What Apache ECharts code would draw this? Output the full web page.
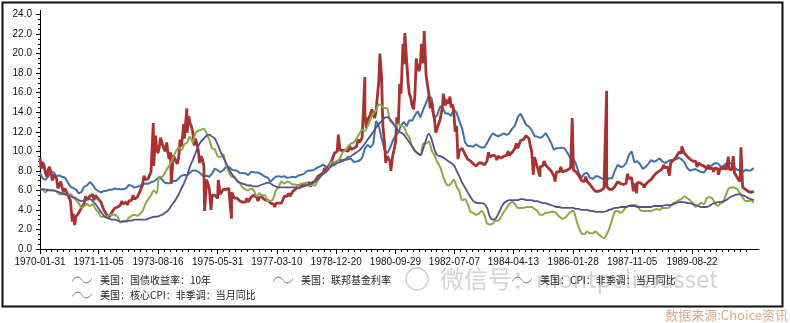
<!DOCTYPE html>
<html><head><meta charset="utf-8">
<script src="https://cdn.jsdelivr.net/npm/echarts@6/dist/echarts.min.js"></script>
<style>html,body{margin:0;padding:0;background:#fff}#c{width:790px;height:323px}</style>
</head><body><div id="c"></div>
<script>
// ---------- data (monthly values start at 1970-01, plotted at month end) ----------
const startYear = 1970;
const tickLabels = ['1970-01-31','1971-11-05','1973-08-16','1975-05-31','1977-03-10','1978-12-20',
  '1980-09-29','1982-07-07','1984-04-13','1986-01-28','1987-11-05','1989-08-22'];
const axisEnd = '1991-08-26';
const seriesNames = ['美国：国债收益率：10年','美国：联邦基金利率','美国：CPI：非季调：当月同比','美国：核心CPI：非季调：当月同比'];

const treasury10y = [
 7.79,7.24,7.07,7.39,7.91,7.84,7.46,7.53,7.39,7.33,6.84,6.39,
 6.24,6.11,5.70,5.83,6.39,6.52,6.85,6.58,6.14,5.93,5.81,5.93,
 5.95,6.08,6.07,6.19,6.13,6.11,6.11,6.21,6.55,6.48,6.28,6.36,
 6.46,6.64,6.71,6.67,6.85,6.90,7.13,7.40,7.09,6.79,6.73,6.74,
 6.99,6.96,7.21,7.51,7.58,7.54,7.81,8.04,8.04,7.90,7.68,7.43,
 7.50,7.39,7.73,8.23,8.06,7.86,8.06,8.40,8.43,8.14,8.05,8.00,
 7.74,7.79,7.73,7.56,7.90,7.86,7.83,7.77,7.59,7.41,7.29,6.87,
 7.21,7.39,7.46,7.37,7.46,7.28,7.33,7.40,7.34,7.52,7.58,7.69,
 7.96,8.03,8.04,8.15,8.35,8.46,8.64,8.41,8.42,8.64,8.81,9.01,
 9.10,9.10,9.12,9.18,9.25,8.91,8.95,9.03,9.33,10.30,10.65,10.39,
 10.80,13.10,12.60,11.30,10.20,9.80,10.30,11.10,11.60,11.90,12.70,13.00,
 12.57,13.19,13.12,13.68,14.10,13.47,14.28,14.94,15.70,15.40,13.39,13.72,
 14.59,14.43,13.86,13.87,13.62,14.30,13.95,13.06,12.34,10.91,10.55,10.54,
 10.46,10.72,10.51,10.40,10.38,10.85,11.38,11.85,11.65,11.54,11.69,11.83,
 11.67,11.84,12.32,12.63,13.50,13.85,13.30,12.72,12.52,12.16,11.57,11.50,
 11.38,11.51,11.86,11.43,10.85,10.16,10.31,10.33,10.37,10.24,9.78,9.26,
 9.19,8.70,7.78,7.30,7.71,7.80,7.30,7.17,7.45,7.43,7.25,7.11,
 7.08,7.25,7.25,8.02,8.61,8.40,8.45,8.76,9.60,10.00,8.86,8.99,
 8.67,8.21,8.37,8.72,9.09,8.92,9.06,9.26,8.98,8.80,8.96,9.11,
 9.09,9.17,9.36,9.18,8.86,8.28,8.02,8.11,8.19,8.01,7.87,7.84,
 8.21,8.47,8.59,8.79,8.76,8.48,8.47,8.75,8.89,8.72,8.39,8.08,
 8.09,7.85,8.11,8.04,8.07,8.28];

const fedFunds = [
 9.3,8.9,7.8,8.1,7.9,7.6,7.2,6.6,6.3,6.2,5.6,4.9,
 3.6,3.3,3.7,4.2,4.7,5.0,5.4,5.6,5.5,5.1,4.8,4.0,
 3.5,3.3,3.8,4.2,4.3,4.5,4.6,4.8,4.9,5.0,5.1,5.3,
 5.9,6.6,7.1,7.2,7.9,8.5,10.4,10.5,10.8,10.0,10.0,9.9,
 9.6,9.0,9.4,10.5,11.3,11.9,12.9,12.0,11.3,10.1,9.5,8.5,
 7.1,6.2,5.5,5.5,5.2,5.6,6.1,6.1,6.2,5.8,5.2,5.2,
 4.9,4.8,4.8,4.8,5.3,5.5,5.3,5.3,5.3,5.0,5.0,4.7,
 4.6,4.7,4.7,4.7,5.4,5.4,5.4,5.9,6.1,6.5,6.5,6.6,
 6.7,6.8,6.8,6.9,7.4,7.6,7.8,8.0,8.5,9.0,9.8,10.0,
 10.1,10.1,10.1,10.0,10.2,10.3,10.5,10.9,11.4,13.8,13.2,13.8,
 13.8,14.1,17.2,17.6,11.0,9.5,9.0,9.6,10.9,12.8,15.9,18.9,
 19.1,15.9,14.7,15.7,18.5,19.1,19.0,17.8,15.9,15.1,13.3,12.4,
 13.2,14.8,14.7,14.9,14.5,14.2,12.6,10.1,10.3,9.7,9.2,9.0,
 8.7,8.5,8.8,8.8,8.6,9.0,9.4,9.6,9.5,9.5,9.3,9.5,
 9.6,9.6,9.9,10.3,10.3,11.1,11.2,11.6,11.3,10.0,9.4,8.4,
 8.4,8.5,8.6,8.3,8.0,7.5,7.9,7.9,7.9,8.0,8.1,8.3,
 8.1,7.9,7.5,7.0,6.9,6.9,6.6,6.2,5.9,5.9,6.0,6.2,
 6.4,6.1,6.1,6.4,6.9,6.7,6.6,6.7,7.2,7.3,6.7,6.8,
 6.8,6.6,6.6,6.9,7.1,7.5,7.8,8.0,8.2,8.3,8.4,8.8,
 9.1,9.4,9.9,9.8,9.8,9.5,9.2,9.0,9.0,8.8,8.6,8.5,
 8.2,8.2,8.3,8.3,8.2,8.3,8.2,8.1,8.2,8.1,7.8,7.3,
 6.9,6.3,6.1,5.9,5.8,5.9];

// daily readings of the fed funds rate (spikes and intra-month swings) seen in the picture
const fedFundsDaily = [
 ['1970-02-15',8.2],['1970-03-15',8.6],['1970-04-15',7.4],['1970-05-15',8.4],['1970-06-15',7.0],
 ['1970-07-15',7.7],['1970-08-15',6.2],['1970-09-15',6.9],['1970-10-15',5.8],['1970-11-15',6.0],
 ['1971-01-20',2.8],['1971-02-15',2.45],['1971-03-12',3.1],['1971-06-15',5.4],['1971-09-15',5.0],
 ['1972-05-15',4.0],['1972-07-15',4.9],['1972-09-15',4.5],['1972-11-15',5.5],['1973-01-15',5.2],
 ['1973-03-15',7.5],['1973-05-15',7.4],['1973-06-25',12.9],['1973-07-20',11.6],['1973-08-15',9.8],
 ['1973-09-12',11.4],['1973-10-15',10.8],['1973-11-20',10.9],['1973-12-15',9.2],['1974-01-08',6.7],
 ['1974-02-15',9.8],['1974-03-15',8.7],['1974-04-15',11.2],['1974-05-25',12.8],['1974-06-28',14.4],
 ['1974-07-20',13.6],['1974-08-15',12.6],['1974-09-15',10.6],['1974-10-15',10.8],['1974-11-15',8.8],
 ['1974-12-15',9.2],['1975-01-08',3.9],['1975-03-20',4.0],['1975-06-07',7.06],['1975-10-30',3.1],
 ['1976-04-15',5.2],['1976-08-15',4.9],['1977-02-15',4.3],['1977-07-15',5.7],['1977-10-15',6.2],
 ['1978-03-15',6.4],['1978-08-15',8.3],['1979-01-12',11.7],['1979-05-15',10.6],['1979-08-15',11.2],
 ['1979-10-30',17.6],['1979-11-15',12.4],['1980-01-15',14.3],['1980-02-15',13.4],['1980-04-12',20.0],
 ['1980-05-15',12.5],['1980-06-15',8.8],['1980-08-10',8.0],['1980-09-15',10.2],['1980-10-15',13.5],
 ['1980-11-15',16.9],['1980-12-20',21.0],['1981-01-10',22.1],['1981-02-15',17.0],['1981-03-15',15.5],
 ['1981-04-15',14.3],['1981-05-15',19.5],['1981-06-15',18.2],['1981-07-12',21.0],['1981-08-10',22.3],
 ['1981-09-15',16.8],['1981-10-15',14.4],['1981-11-15',14.0],['1981-12-15',11.9],['1982-01-15',12.6],
 ['1982-02-15',14.0],['1982-03-07',15.9],['1982-04-15',15.3],['1982-05-20',15.6],['1982-06-15',14.8],
 ['1982-07-15',12.0],['1982-08-15',9.2],['1982-10-15',10.2],['1983-03-15',8.3],['1983-07-15',9.9],
 ['1983-10-15',9.1],['1984-02-15',10.0],['1984-05-15',10.8],['1984-08-15',11.1],['1984-10-15',10.6],
 ['1984-11-18',7.6],['1985-01-30',7.4],['1985-03-15',9.0],['1985-05-15',8.3],['1985-07-13',6.9],
 ['1985-09-15',8.4],['1985-11-15',7.8],['1986-01-18',13.4],['1986-03-15',7.9],['1986-06-15',7.4],
 ['1986-09-15',6.3],['1987-01-30',16.2],['1987-04-15',6.0],['1987-06-15',7.1],['1987-09-15',7.7],
 ['1987-11-18',5.9],['1987-12-25',5.7],['1988-03-15',6.3],['1988-07-15',7.4],['1988-10-15',8.6],
 ['1988-12-17',7.5],['1989-02-15',9.0],['1989-05-01',10.5],['1989-07-15',9.6],['1989-10-15',8.4],
 ['1990-02-15',8.6],['1990-04-15',7.9],['1990-06-05',7.6],['1990-08-15',8.5],['1990-09-24',9.45],
 ['1990-11-17',9.5],['1990-12-15',7.8],['1991-02-09',10.4]];

const cpi = [
 6.2,6.1,5.8,6.1,6.0,6.0,5.9,5.6,5.6,5.6,5.5,5.6,
 5.3,5.0,4.7,4.2,4.4,4.6,4.4,4.6,4.1,3.8,3.3,3.3,
 3.3,3.5,3.5,3.5,3.3,2.7,2.9,2.9,3.2,3.4,3.5,3.4,
 3.6,3.9,4.6,5.1,5.5,6.0,5.7,7.4,7.4,7.8,8.3,8.7,
 9.4,10.0,10.4,10.1,10.7,10.9,11.5,10.9,11.9,12.1,12.2,12.3,
 11.8,11.2,10.3,10.2,9.5,9.4,9.7,8.6,7.9,7.4,7.4,6.9,
 6.7,6.3,6.1,6.0,6.2,6.0,5.4,5.7,5.5,5.5,4.9,4.9,
 5.2,6.0,6.4,6.9,6.7,6.9,6.8,6.6,6.6,6.4,6.7,6.7,
 6.8,6.4,6.6,6.5,7.0,7.4,7.7,7.9,8.3,8.9,8.9,9.0,
 9.3,9.9,10.1,10.5,10.8,10.9,11.3,11.8,12.2,12.1,12.6,13.3,
 13.9,14.2,14.8,14.7,14.4,14.4,13.1,12.9,12.6,12.8,12.6,12.5,
 11.8,11.4,10.5,10.0,9.8,9.6,10.8,10.8,11.0,10.1,9.6,8.9,
 8.4,7.6,6.8,6.5,6.7,7.1,6.4,5.9,5.0,5.1,4.6,3.8,
 3.7,3.5,3.6,3.9,3.5,2.6,2.5,2.6,2.9,2.9,3.3,3.8,
 4.2,4.6,4.8,4.6,4.2,4.2,4.2,4.3,4.3,4.3,4.1,3.9,
 3.5,3.5,3.7,3.7,3.8,3.8,3.6,3.3,3.1,3.2,3.5,3.8,
 3.9,3.1,2.2,1.6,1.5,1.8,1.6,1.6,1.8,1.5,1.3,1.1,
 1.5,2.1,3.0,3.8,3.9,3.7,3.9,4.3,4.4,4.5,4.5,4.4,
 4.0,3.9,3.9,3.9,3.9,4.0,4.1,4.0,4.2,4.2,4.2,4.4,
 4.7,4.8,5.0,5.1,5.4,5.2,5.0,4.7,4.3,4.5,4.7,4.6,
 5.2,5.3,5.2,4.7,4.4,4.7,4.8,5.6,6.2,6.3,6.3,6.1,
 5.7,5.3,4.9,4.9,5.0,4.7];

const coreCpi = [
 6.1,6.1,6.1,6.0,6.0,6.0,5.9,5.8,5.7,5.6,5.5,5.4,
 5.3,5.2,5.0,4.9,5.0,5.1,5.1,4.9,4.6,4.2,3.8,3.4,
 3.2,3.1,3.0,3.0,2.9,2.8,2.8,2.8,2.9,2.9,3.0,3.0,
 3.0,3.0,3.0,3.1,3.2,3.3,3.3,3.4,3.5,3.7,3.9,4.3,
 4.7,5.1,5.6,6.2,6.8,7.5,8.4,9.1,9.8,10.5,11.0,11.3,
 11.6,11.7,11.5,11.3,10.7,10.0,9.4,8.8,8.2,7.7,7.3,7.0,
 6.8,6.7,6.6,6.5,6.5,6.4,6.4,6.5,6.6,6.7,6.8,6.7,
 6.5,6.4,6.3,6.3,6.3,6.3,6.3,6.3,6.3,6.2,6.3,6.4,
 6.5,6.6,6.7,6.9,7.1,7.4,7.7,7.9,8.2,8.5,8.6,8.8,
 8.9,9.0,9.2,9.4,9.5,9.7,9.9,10.1,10.4,10.8,11.2,11.6,
 12.0,12.4,12.8,13.1,13.4,13.5,13.3,12.9,12.5,12.1,11.9,11.7,
 11.3,10.9,10.5,10.1,9.8,9.6,10.3,11.2,11.8,11.2,10.2,9.6,
 9.5,9.4,9.2,9.0,8.8,8.6,8.0,7.4,6.8,6.3,5.8,5.3,
 4.9,4.75,4.7,4.7,4.6,4.2,3.3,3.0,3.1,3.6,4.2,4.7,
 4.9,5.0,5.0,5.0,5.0,5.1,5.1,5.0,5.0,5.0,4.9,4.9,
 4.8,4.7,4.7,4.6,4.5,4.4,4.3,4.3,4.2,4.2,4.2,4.2,
 4.2,4.1,4.1,4.0,4.0,4.0,3.9,3.9,3.8,3.8,3.8,3.8,
 3.9,4.0,4.1,4.2,4.2,4.3,4.3,4.3,4.4,4.4,4.4,4.3,
 4.3,4.3,4.3,4.3,4.3,4.4,4.4,4.4,4.4,4.5,4.5,4.5,
 4.6,4.7,4.8,4.8,4.8,4.7,4.7,4.6,4.5,4.4,4.3,4.3,
 4.3,4.4,4.6,4.7,4.8,4.8,4.9,5.0,5.2,5.4,5.5,5.6,
 5.6,5.5,5.4,5.2,5.1,5.0];

// ---------- helpers ----------
function toTs(s){const p=s.split('-');return Date.UTC(+p[0],+p[1]-1,+p[2]);}
function monthEnd(i){const y=startYear+Math.floor(i/12);const m=i%12;return Date.UTC(y,m+1,0);}
function monthly(vals){return vals.map((v,i)=>[monthEnd(i),v]);}
const tickTs = tickLabels.map(toTs);
const xMin = tickTs[0], xMax = toTs(axisEnd);
const minorTs = [];
for(let i=0;i<tickTs.length;i++){
  const a=tickTs[i], b=(i<tickTs.length-1)?tickTs[i+1]:a+(tickTs[i]-tickTs[i-1]);
  for(let k=1;k<10;k++){const t=a+(b-a)*k/10; if(t<=xMax) minorTs.push(t);}
}
const ffData = monthly(fedFunds).concat(fedFundsDaily.map(d=>[toTs(d[0]),d[1]])).sort((a,b)=>a[0]-b[0]);

const colors = ['#3f70aa','#a83230','#8fa744','#55508c'];
const AX = 'Arial, "Liberation Sans", sans-serif';
const CJK = '"Noto Sans CJK SC", "Noto Sans", sans-serif';
const wave = 'path://M0,6 C4,0 8,0 11,4.5 C14,9 18,9 22,3 L22,4.3 C18,10.3 14,10.3 11,5.8 C8,1.3 4,1.3 0,7.3 Z';
function legendAt(name,left,top){
  return {data:[name],left:left,top:top,padding:0,icon:wave,itemWidth:20,itemHeight:9,itemGap:0,
    selectedMode:false,itemStyle:{color:'#8c9099'},lineStyle:{opacity:0},
    textStyle:{fontFamily:CJK,fontSize:10,color:'#222',padding:[0,0,0,3]}};
}

const chart = echarts.init(document.getElementById('c'), null, {renderer:'canvas'});
chart.setOption({
  animation:false,
  backgroundColor:'#fff',
  grid:{left:40,right:31,top:14.5,bottom:74,containLabel:false},
  xAxis:[{
    type:'value',min:xMin,max:xMax,scale:true,
    axisLine:{show:true,lineStyle:{color:'#000',width:1}},
    axisTick:{show:true,customValues:tickTs,length:5,lineStyle:{color:'#000'}},
    axisLabel:{show:true,customValues:tickTs,margin:8,fontFamily:AX,fontSize:10,color:'#111',
      formatter:function(v){let best=-1,bd=Infinity;tickTs.forEach((t,i)=>{const d=Math.abs(t-v);if(d<bd){bd=d;best=i;}});return bd<86400000*2?tickLabels[best]:'';}},
    splitLine:{show:false}
  },{
    type:'value',min:xMin,max:xMax,scale:true,position:'bottom',
    axisLine:{show:false},
    axisTick:{show:true,customValues:minorTs,length:3,lineStyle:{color:'#000'}},
    axisLabel:{show:false},splitLine:{show:false}
  }],
  yAxis:{
    type:'value',min:0,max:24,interval:2,
    axisLine:{show:true,lineStyle:{color:'#000',width:1}},
    axisTick:{show:true,length:4,lineStyle:{color:'#000'}},
    minorTick:{show:true,splitNumber:4,length:2,lineStyle:{color:'#000'}},
    axisLabel:{margin:8,fontFamily:AX,fontSize:10,color:'#111',formatter:v=>v.toFixed(1)},
    splitLine:{show:false}
  },
  legend:[
    legendAt(seriesNames[0],72,275),
    legendAt(seriesNames[1],273,275),
    legendAt(seriesNames[2],512,275),
    legendAt(seriesNames[3],72,290)
  ],
  series:[
    {name:seriesNames[0],type:'line',data:monthly(treasury10y),showSymbol:false,symbol:'none',
      lineStyle:{color:colors[0],width:2},itemStyle:{color:colors[0]}},
    {name:seriesNames[1],type:'line',data:ffData,showSymbol:false,symbol:'none',
      lineStyle:{color:colors[1],width:2.8},itemStyle:{color:colors[1]}},
    {name:seriesNames[2],type:'line',data:monthly(cpi),showSymbol:false,symbol:'none',smooth:0.3,
      lineStyle:{color:colors[2],width:2},itemStyle:{color:colors[2]}},
    {name:seriesNames[3],type:'line',data:monthly(coreCpi),showSymbol:false,symbol:'none',smooth:0.3,
      lineStyle:{color:colors[3],width:1.8},itemStyle:{color:colors[3]}}
  ],
  graphic:[
    {type:'line',shape:{x1:40.5,y1:10,x2:40.5,y2:15},style:{stroke:'#000',lineWidth:1},silent:true},
    {type:'rect',left:0,top:0,shape:{x:1,y:1,width:780,height:304},style:{fill:null,stroke:'#111',lineWidth:2},silent:true,z:100},
    {type:'group',silent:true,z:50,children:[
      {type:'circle',shape:{cx:417,cy:279,r:11},style:{fill:null,stroke:'rgba(170,170,170,0.55)',lineWidth:1.5}},
      {type:'text',x:440,y:279,style:{text:'微信号：montpelierasset',font:'24px "Noto Sans CJK SC", sans-serif',fill:'rgba(175,175,175,0.55)',textVerticalAlign:'middle'}}
    ]},
    {type:'text',right:2,top:309,style:{text:'数据来源:Choice资讯',font:'13px "Noto Sans CJK SC", sans-serif',fill:'#e7a57f'},silent:true}
  ]
});
</script></body></html>
